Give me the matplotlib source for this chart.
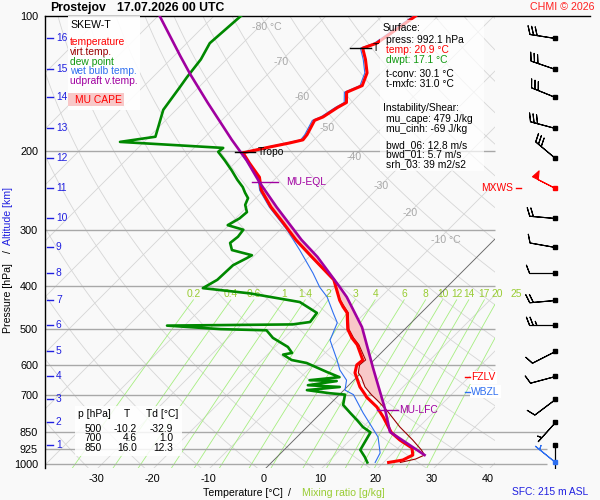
import numpy as np
import matplotlib
matplotlib.use("Agg")
import matplotlib.pyplot as plt
from matplotlib.patches import Rectangle
from matplotlib.ticker import NullLocator, NullFormatter

plt.rcParams['font.family'] = ['Liberation Sans', 'DejaVu Sans']

# sounding (hPa, degC)
temp_p = [992, 980, 955, 921, 884, 850, 785, 746, 709, 700, 673, 626, 601, 586, 542, 523, 500,
          460, 446, 431, 388, 345, 316, 290, 267, 245, 229, 213, 202, 196, 192, 189, 184, 171,
          168, 160, 156, 148, 143, 134, 125, 118, 115, 100]
temp_t = [20.9, 23.0, 23.9, 22.5, 18.9, 16.0, 11.8, 8.9, 5.3, 4.6, 2.3, -1.1, -2.2, -2.0, -5.7, -7.9, -10.2,
          -13.2, -15.0, -16.8, -21.5, -29.5, -35.4, -40.6, -45.7, -50.4, -53.1, -57.4, -60.4, -56.6, -53.8, -52.0, -52.2, -53.4,
          -52.5, -51.6, -50.9, -52.7, -51.1, -52.5, -55.2, -57.7, -56.1, -54.0]

virt_p = [992, 975, 955, 930, 884, 827, 758, 720, 700, 673, 640, 626, 601, 586, 542, 523, 500,
          460, 431, 388, 345, 316, 290, 267, 245, 229, 213, 202]
virt_t = [23.0, 25.1, 26.0, 24.5, 21.2, 16.6, 11.2, 7.7, 5.7, 3.2, 0.8, -0.5, -1.7, -1.5, -5.4, -7.6, -10.0,
          -13.0, -16.7, -21.5, -29.5, -35.4, -40.6, -45.7, -50.4, -53.1, -57.4, -60.4]

dew_p = [992, 965, 930, 850, 827, 798, 769, 738, 700, 695, 684, 673, 667, 653, 650, 640, 623, 595,
         586, 570, 565, 548, 523, 503, 500, 491, 488, 482, 460, 435, 416, 405, 388, 360, 347, 342,
         333, 321, 311, 300, 293, 283, 274, 264, 255, 248, 241, 232, 221, 210, 201, 197, 191, 186,
         162, 144, 137, 125, 115, 104, 100]
dew_t = [17.1, 15.7, 13.6, 12.3, 10.0, 7.7, 5.2, 2.5, 1.0, -2.0, -6.6, -1.3, -7.3, -2.9, -7.9, -3.1, -6.3, -11.5,
         -14.7, -17.2, -15.9, -17.7, -22.0, -24.5, -32.9, -43.1, -20.9, -18.2, -18.6, -23.6, -34.1, -43.4, -42.3, -42.1, -40.9, -40.5,
         -45.0, -46.6, -46.3, -46.6, -50.2, -49.3, -49.1, -50.7, -51.4, -52.9, -54.3, -56.6, -59.3, -62.3, -65.0, -64.8, -84.3, -78.9,
         -82.3, -83.4, -83.9, -84.6, -85.9, -85.4, -85.2]

wb_p = [992, 945, 871, 827, 769, 700, 684, 650, 617, 586, 529, 484, 460, 424, 403, 375, 333, 300,
        267, 245, 229, 213, 202, 196, 192, 189, 184, 171, 168, 160, 156, 148, 143, 134, 125, 118, 115, 100]
wb_t = [18.5, 17.7, 14.5, 11.6, 7.5, 2.5, 0.2, -1.3, -4.3, -6.6, -11.4, -13.2, -15.7, -19.6, -22.7, -26.4, -32.9, -38.8,
        -46.0, -50.7, -53.4, -57.7, -60.7, -57.0, -54.3, -52.4, -52.6, -53.8, -52.9, -52.0, -51.3, -53.1, -51.5, -52.9, -55.6, -58.1, -56.5, -54.4]

parcel_p = [955, 848, 750, 607, 495, 424, 403, 345, 316, 267, 235, 210, 189, 156, 135, 123, 100]
parcel_t = [26.0, 15.7, 10.5, 1.0, -8.0, -16.1, -19.1, -28.5, -34.4, -44.7, -52.2, -58.4, -64.7, -75.7, -83.8, -88.8, -99.7]

# altitude scale (km -> hPa)
km_labels = list(range(1, 17))
km_p = [907, 806, 716, 636, 560, 490, 431, 375, 328, 283, 242, 208, 178, 152, 131, 112]

# wind profile: surface + every km
wind_p = [992] + km_p
wind_dir = [309, 180, 222, 233, 255, 243, 270, 265, 270, 280, 275, 297, 310, 285, 292, 289, 279]
wind_spd = [5, 10, 5, 10, 10, 10, 25, 20, 10, 10, 20, 50, 30, 30, 30, 30, 30]

# levels
lfc_p, eql_p = 758, 235
fzlv_p, wbzl_p = 640, 690
trop_p = [201, 118]
trop_lab = ['Tropo', 'T']   # second one sits under the info box, only "T" shows

# surface / indices
sfc_press, sfc_temp, sfc_dwpt = 992.1, 20.9, 17.1
t_conv, t_mxfc = 30.1, 31.0
mu_cape, mu_cinh = 479, -69
bwd_06, bwd_01, srh_03 = 12.8, 5.7, 39

table_p = [500, 700, 850]
table_t = [-10.2, 4.6, 16.0]
table_td = [-32.9, 1.0, 12.3]

mix_w = [0.2, 0.4, 0.6, 1, 1.4, 2, 3, 4, 6, 8, 10, 12, 14, 17, 20, 25]
p_ticks = [100, 200, 300, 400, 500, 600, 700, 850, 925, 1000]
t_ticks = list(range(-30, 41, 10))

c_bg = '#f9f9f9'
c_grid = '#d6d6d6'
c_temp = '#ff0000'
c_virt = '#990000'
c_dew = '#008800'
c_wb = '#2f6ff0'
c_par = '#a000a0'
c_cape = '#f8c8c8'
c_km = '#2020e0'
c_mix = '#a6ee80'
c_mixlab = '#99cc33'


def skx(t, p):
    return np.asarray(t, float) + 80 * np.log10(1000 / np.asarray(p, float))


def px2x(px):
    return (px - 270) / 5.6


def py2p(py):
    return 1000 * 10 ** (-(464 - py) / 448)


def fpos(px, py):
    return px / 600, 1 - py / 500


fig = plt.figure(figsize=(6, 5), dpi=100, facecolor=c_bg)
ax = fig.add_axes([45 / 600, 32 / 500, 545 / 600, 452 / 500], facecolor=c_bg)
ax.set_yscale('log')
ax.set_ylim(py2p(468), 100)
ax.set_xlim(px2x(45), px2x(590))

clip = Rectangle((px2x(45), 100), px2x(495) - px2x(45), py2p(468) - 100, transform=ax.transData)

# isotherms and dry adiabats
for t in range(-150, 60, 10):
    ln, = ax.plot(skx([t, t], [1100, 90]), [1100, 90], color=c_grid, lw=0.6, zorder=1)
    ln.set_clip_path(clip)
pp = np.geomspace(90, 1100, 80)
for th in range(220, 500, 10):
    ln, = ax.plot(skx(th * (pp / 1000) ** 0.286 - 273.15, pp), pp, color=c_grid, lw=0.6, zorder=1)
    ln.set_clip_path(clip)
ln, = ax.plot(skx([0, 0], [1100, 90]), [1100, 90], color='#666666', lw=0.6, zorder=1.5)
ln.set_clip_path(clip)

# mixing ratio lines
pw = np.geomspace(430, 1100, 40)
for w in mix_w:
    e = w * pw / (622 + w)
    a = np.log(e / 6.112)
    td = 243.5 * a / (17.67 - a)
    ln, = ax.plot(skx(td, pw), pw, color=c_mix, lw=0.6, zorder=1.1)
    ln.set_clip_path(clip)
    ax.text(skx(td[0], 430), py2p(294), f'{w:g}', color=c_mixlab, fontsize=7.4,
            ha='center', va='center', zorder=1.3)

# isotherm labels
iso_lab_t = [-80, -70, -60, -50, -40, -30, -20, -10]
iso_lab_y = [27, 62, 97, 128, 157, 186, 213, 240]
for t, yy in zip(iso_lab_t, iso_lab_y):
    lab = f'{t} °C' if t in (-80, -10) else str(t)
    ax.text(skx(t, py2p(yy)) - 1.2, py2p(yy), lab, color='#a8a8a8', fontsize=7.6,
            ha='left', va='center', zorder=1.3)

# pressure lines
ax.hlines([200, 300, 400, 500, 600, 700], px2x(45), px2x(495), color='#a8a8a8', lw=1, zorder=1.2)
ax.hlines([850, 925, 1000], px2x(45), px2x(547), color='#a8a8a8', lw=1, zorder=1.2)

# CAPE area
pf = np.geomspace(lfc_p, eql_p, 300)
tv_f = np.interp(-np.log(pf), -np.log(virt_p), virt_t)
pc_f = np.interp(-np.log(pf), -np.log(parcel_p), parcel_t)
ax.fill_betweenx(pf, skx(tv_f, pf), skx(pc_f, pf), where=pc_f > tv_f, interpolate=True,
                 color=c_cape, lw=0, zorder=2)

# profiles
ax.plot(skx(wb_t, wb_p), wb_p, color=c_wb, lw=0.8, zorder=3)
ax.plot(skx(virt_t, virt_p), virt_p, color=c_virt, lw=0.8, zorder=3.5)
ax.plot(skx(dew_t, dew_p), dew_p, color=c_dew, lw=1.9, zorder=4)
ax.plot(skx(temp_t, temp_p), temp_p, color=c_temp, lw=2.2, zorder=5)
ax.plot(skx(parcel_t, parcel_p), parcel_p, color=c_par, lw=1.9, zorder=6)

# level marks
for p, lab in zip(trop_p, trop_lab):
    xc = skx(np.interp(-np.log(p), -np.log(temp_p), temp_t), p)
    ax.plot([xc - 2.3, xc + 1.4], [p, p], color='k', lw=1, zorder=6.5)
    ax.text(xc + 1.8, p, lab, fontsize=7.4, ha='left', va='center', zorder=6.5)
xc = skx(np.interp(-np.log(eql_p), -np.log(parcel_p), parcel_t), eql_p)
ax.plot([xc - 1.4, xc + 3.3], [eql_p, eql_p], color=c_par, lw=1, zorder=6.5)
ax.text(xc + 4.8, eql_p, 'MU-EQL', color=c_par, fontsize=7.4, ha='left', va='center')
xc = skx(np.interp(-np.log(lfc_p), -np.log(parcel_p), parcel_t), lfc_p)
ax.plot([xc - 1.4, xc + 2.2], [lfc_p, lfc_p], color=c_par, lw=1, zorder=6.5)
ax.text(xc + 2.4, lfc_p, 'MU-LFC', color=c_par, fontsize=7.4, ha='left', va='center')
for p, name, col in [(fzlv_p, 'FZLV', c_temp), (wbzl_p, 'WBZL', c_wb)]:
    ax.plot([px2x(465), px2x(470)], [p, p], color=col, lw=1, zorder=6.5)
    ax.text(px2x(471), p, name, color=col, fontsize=7.4, ha='left', va='center',
            bbox=dict(facecolor='white', edgecolor='none', pad=1.0))
ax.plot([px2x(516), px2x(521)], [km_p[10], km_p[10]], color=c_temp, lw=1)
ax.text(px2x(513), km_p[10], 'MXWS', color=c_temp, fontsize=7.4, ha='right', va='center')

# altitude scale
for k, p in zip(km_labels, km_p):
    ax.plot([px2x(47), px2x(53)], [p, p], color=c_km, lw=1, zorder=6)
    ax.text(px2x(56), p, str(k), color=c_km, fontsize=7.4, ha='left', va='center')

# wind barbs
wd = np.radians(wind_dir)
ws = np.array(wind_spd, float)
u = -ws * np.sin(wd)
v = -ws * np.cos(wd)
bx = np.full(len(wind_p), px2x(555))
wp = np.array(wind_p, float)
cols = ['k'] * len(wind_p)
cols[0] = c_wb
cols[11] = c_temp
for i in range(len(wind_p)):
    ax.barbs(bx[i:i + 1], wp[i:i + 1], u[i:i + 1], v[i:i + 1], length=6.1, pivot='tip',
             sizes=dict(spacing=0.14, height=0.32, width=0.25), linewidth=0.8,
             barbcolor=cols[i], flagcolor=cols[i], zorder=7)
    ax.plot(bx[i], wp[i], 's', ms=2.6, color=cols[i], zorder=7.5)

# axes cosmetics
for s in ['right', 'bottom']:
    ax.spines[s].set_visible(False)
ax.spines['left'].set_linewidth(1.0)
ax.spines['top'].set_linewidth(1.0)
ax.set_yticks(p_ticks, labels=[str(p) for p in p_ticks])
ax.yaxis.set_minor_locator(NullLocator())
ax.yaxis.set_minor_formatter(NullFormatter())
ax.tick_params(axis='y', length=0, pad=5, labelsize=7.8)
ax.set_xticks([t - 6 / 5.6 for t in t_ticks], labels=[str(t) for t in t_ticks])
ax.tick_params(axis='x', length=0, pad=4, labelsize=7.8)

# title and credits
fig.text(*fpos(50, 8), 'Prostejov', fontsize=8.8, fontweight='bold', ha='left', va='center')
fig.text(*fpos(117, 8), '17.07.2026 00 UTC', fontsize=8.8, fontweight='bold', ha='left', va='center')
fig.text(*fpos(595, 7), 'CHMI © 2026', color='#ff2020', fontsize=7.7, ha='right', va='center')
fig.text(*fpos(588, 492), 'SFC: 215 m ASL', color=c_km, fontsize=7.4, ha='right', va='center')

# axis titles
fig.text(*fpos(283, 493), 'Temperature [°C]', fontsize=7.6, ha='right', va='center')
fig.text(*fpos(289, 493), '/', fontsize=7.6, ha='center', va='center')
fig.text(*fpos(302, 493), 'Mixing ratio [g/kg]', color=c_mixlab, fontsize=7.6, ha='left', va='center')
fig.text(*fpos(8, 333), 'Pressure [hPa]', fontsize=7.6, rotation=90, ha='center', va='bottom')
fig.text(*fpos(8, 252), '/', fontsize=7.6, rotation=90, ha='center', va='center')
fig.text(*fpos(8, 245), 'Altitude [km]', color=c_km, fontsize=7.6, rotation=90, ha='center', va='bottom')

# legend box
fig.add_artist(Rectangle(fpos(68, 110), 72 / 600, 94 / 500, transform=fig.transFigure,
                         facecolor='white', edgecolor='none', alpha=0.9, zorder=2))
fig.text(*fpos(70, 25), 'SKEW-T', fontsize=7.6, ha='left', va='center')
leg = [('temperature', c_temp), ('virt.temp.', c_virt), ('dew point', '#119911'),
       ('wet bulb temp.', c_wb), ('udpraft v.temp.', c_par)]
for i, (name, col) in enumerate(leg):
    fig.text(*fpos(70, 42 + 9.8 * i), name, color=col, fontsize=7.4, ha='left', va='center')
fig.add_artist(Rectangle(fpos(68, 106), 56 / 600, 13 / 500, transform=fig.transFigure,
                         facecolor=c_cape, edgecolor='none', zorder=2.5))
fig.text(*fpos(75, 100), 'MU CAPE', color=c_temp, fontsize=7.4, ha='left', va='center')

# surface / instability box
fig.add_artist(Rectangle(fpos(380, 171), 104 / 600, 151 / 500, transform=fig.transFigure,
                         facecolor='white', edgecolor='none', alpha=0.7, zorder=2))
info = [(383, 28, 'Surface:', 'k'),
        (386, 40, f'press: {sfc_press:.1f} hPa', 'k'),
        (386, 50, f'temp: {sfc_temp:.1f} °C', c_temp),
        (386, 60, f'dwpt: {sfc_dwpt:.1f} °C', '#119911'),
        (386, 74, f't-conv: {t_conv:.1f} °C', 'k'),
        (386, 84, f't-mxfc: {t_mxfc:.1f} °C', 'k'),
        (383, 108, 'Instability/Shear:', 'k'),
        (386, 119, f'mu_cape: {mu_cape} J/kg', 'k'),
        (386, 129, f'mu_cinh: {mu_cinh} J/kg', 'k'),
        (386, 145, f'bwd_06: {bwd_06} m/s', 'k'),
        (386, 154, f'bwd_01: {bwd_01} m/s', 'k'),
        (386, 164, f'srh_03: {srh_03} m2/s2', 'k')]
for xx, yy, s, col in info:
    fig.text(*fpos(xx, yy), s, color=col, fontsize=7.4, ha='left', va='center')

# level table
fig.add_artist(Rectangle(fpos(75, 456), 107 / 600, 50 / 500, transform=fig.transFigure,
                         facecolor='white', edgecolor='none', alpha=0.85, zorder=2))
fig.text(*fpos(78, 414), 'p [hPa]', fontsize=7.4, ha='left', va='center')
fig.text(*fpos(127, 414), 'T', fontsize=7.4, ha='center', va='center')
fig.text(*fpos(146, 414), 'Td [°C]', fontsize=7.4, ha='left', va='center')
for i, (p, t, td) in enumerate(zip(table_p, table_t, table_td)):
    yy = 428.5 + 9.8 * i
    fig.text(*fpos(102, yy), str(p), fontsize=7.4, ha='right', va='center')
    fig.text(*fpos(137, yy), f'{t:.1f}', fontsize=7.4, ha='right', va='center')
    fig.text(*fpos(173, yy), f'{td:.1f}', fontsize=7.4, ha='right', va='center')

fig.savefig('out.png', dpi=100, facecolor=c_bg)
